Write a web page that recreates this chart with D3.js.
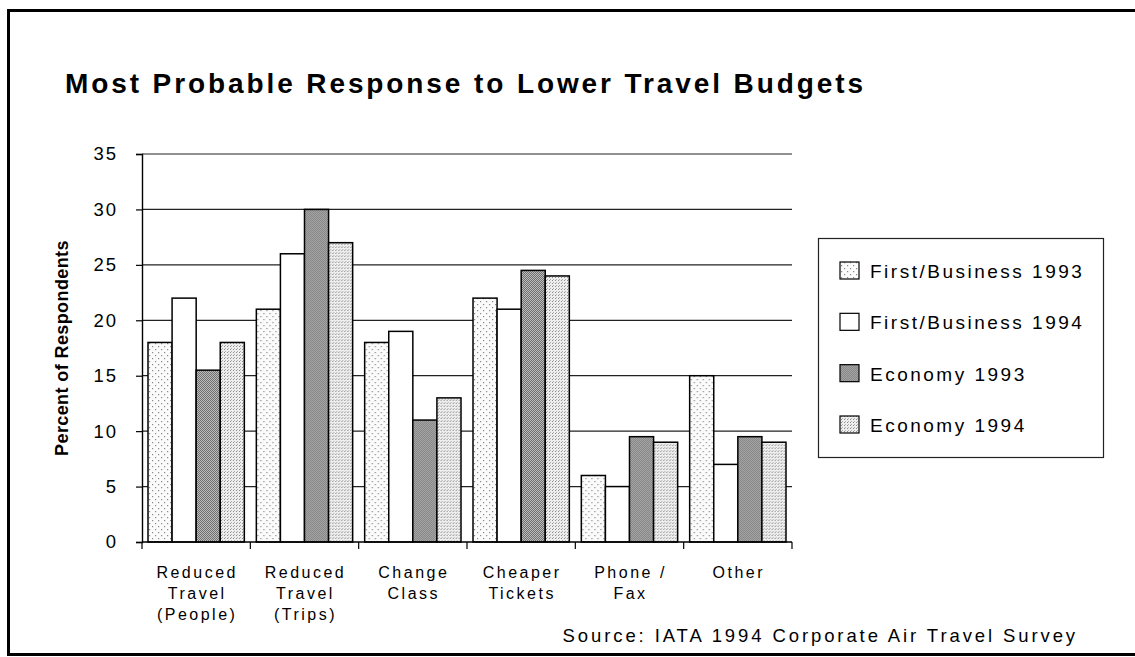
<!DOCTYPE html>
<html>
<head>
<meta charset="utf-8">
<script src="https://cdn.jsdelivr.net/npm/d3@7"></script>
<style>
  html, body { margin: 0; padding: 0; background: #fff; }
  svg { display: block; font-family: "Liberation Sans", Arial, Helvetica, sans-serif; }
</style>
</head>
<body>
<svg id="chart" width="1135" height="657"></svg>
<script>
// Survey responses: share of respondents choosing each action
const categories = [
  ["Reduced", "Travel", "(People)"],
  ["Reduced", "Travel", "(Trips)"],
  ["Change", "Class"],
  ["Cheaper", "Tickets"],
  ["Phone /", "Fax"],
  ["Other"]
];
const seriesNames = ["First/Business 1993", "First/Business 1994", "Economy 1993", "Economy 1994"];
const firstBusiness1993 = [18, 21, 18, 22, 6, 15];
const firstBusiness1994 = [22, 26, 19, 21, 5, 7];
const economy1993 = [15.5, 30, 11, 24.5, 9.5, 9.5];
const economy1994 = [18, 27, 13, 24, 9, 9];
const yTicks = [0, 5, 10, 15, 20, 25, 30, 35];

const seriesValues = [firstBusiness1993, firstBusiness1994, economy1993, economy1994];
const fills = ["url(#pLightDots)", "#ffffff", "url(#pDark)", "url(#pMedium)"];

const svg = d3.select("#chart");

// Fill textures
const defs = svg.append("defs");
const p1 = defs.append("pattern").attr("id", "pLightDots").attr("patternUnits", "userSpaceOnUse")
  .attr("width", 6).attr("height", 6);
p1.append("rect").attr("width", 6).attr("height", 6).attr("fill", "#fbfbfb");
p1.append("rect").attr("x", 1).attr("y", 1).attr("width", 1.2).attr("height", 1.2).attr("fill", "#8a8a8a");
p1.append("rect").attr("x", 4).attr("y", 4).attr("width", 1.2).attr("height", 1.2).attr("fill", "#8a8a8a");

const p3 = defs.append("pattern").attr("id", "pDark").attr("patternUnits", "userSpaceOnUse")
  .attr("width", 2).attr("height", 2);
p3.append("rect").attr("width", 2).attr("height", 2).attr("fill", "#bcbcbc");
p3.append("rect").attr("x", 0).attr("y", 0).attr("width", 1).attr("height", 1).attr("fill", "#707070");
p3.append("rect").attr("x", 1).attr("y", 1).attr("width", 1).attr("height", 1).attr("fill", "#707070");

const p4 = defs.append("pattern").attr("id", "pMedium").attr("patternUnits", "userSpaceOnUse")
  .attr("width", 3).attr("height", 3);
p4.append("rect").attr("width", 3).attr("height", 3).attr("fill", "#eeeeee");
p4.append("rect").attr("x", 1).attr("y", 1).attr("width", 1).attr("height", 1).attr("fill", "#8c8c8c");
p4.append("rect").attr("x", 2).attr("y", 0).attr("width", 1).attr("height", 1).attr("fill", "#b0b0b0");

// Outer frame
svg.append("rect").attr("x", 8.5).attr("y", 10.5).attr("width", 1140).attr("height", 644)
  .attr("fill", "none").attr("stroke", "#000").attr("stroke-width", 3);

// Title
svg.append("text").attr("x", 65).attr("y", 93)
  .attr("font-size", 28).attr("font-weight", "bold").attr("letter-spacing", 2.9)
  .text("Most Probable Response to Lower Travel Budgets");

const plot = { left: 142, right: 792, top: 154, bottom: 542 };

const x0 = d3.scaleBand().domain(d3.range(categories.length))
  .range([plot.left, plot.right]).paddingInner(0).paddingOuter(0);
const x1 = d3.scaleBand().domain(d3.range(seriesNames.length))
  .range([6, x0.bandwidth() - 6]).padding(0);
const y = d3.scaleLinear().domain([0, 35]).range([plot.bottom, plot.top]);

// Gridlines
svg.append("g").selectAll("line").data(yTicks.filter(t => t > 0)).join("line")
  .attr("x1", plot.left).attr("x2", plot.right)
  .attr("y1", d => y(d)).attr("y2", d => y(d))
  .attr("stroke", "#222").attr("stroke-width", 1.2);

// Y axis
const yAxis = svg.append("g").attr("transform", `translate(${plot.left},0)`)
  .call(d3.axisLeft(y).tickValues(yTicks).tickSize(6).tickPadding(18));
yAxis.select(".domain").attr("stroke", "#000").attr("stroke-width", 1.4);
yAxis.selectAll(".tick line").attr("stroke", "#000").attr("stroke-width", 1.2);
yAxis.selectAll(".tick text").attr("font-size", 18.5).attr("fill", "#000")
  .attr("letter-spacing", 2).attr("font-family", "Liberation Sans, Arial, sans-serif");

// Y axis title
svg.append("text").attr("transform", "translate(68,348) rotate(-90)")
  .attr("text-anchor", "middle").attr("font-size", 18).attr("font-weight", "bold")
  .attr("letter-spacing", 0.4)
  .text("Percent of Respondents");

// Bars
const groups = svg.append("g").selectAll("g").data(categories).join("g")
  .attr("transform", (d, i) => `translate(${x0(i)},0)`);
groups.selectAll("rect")
  .data((d, i) => seriesValues.map((vals, s) => ({ s, v: vals[i] })))
  .join("rect")
  .attr("x", d => x1(d.s)).attr("width", x1.bandwidth())
  .attr("y", d => y(d.v)).attr("height", d => y(0) - y(d.v))
  .attr("fill", d => fills[d.s]).attr("stroke", "#000").attr("stroke-width", 1.5);

// X axis with group separators
const xAxis = svg.append("g").attr("transform", `translate(0,${plot.bottom})`);
xAxis.append("line").attr("x1", plot.left).attr("x2", plot.right)
  .attr("stroke", "#000").attr("stroke-width", 1.5);
xAxis.selectAll("line.sep").data(d3.range(categories.length + 1)).join("line")
  .attr("class", "sep")
  .attr("x1", i => i < categories.length ? x0(i) : plot.right)
  .attr("x2", i => i < categories.length ? x0(i) : plot.right)
  .attr("y1", 0).attr("y2", 7).attr("stroke", "#000").attr("stroke-width", 1.2);

// Category labels
const labels = svg.append("g").selectAll("text").data(categories).join("text")
  .attr("text-anchor", "middle").attr("font-size", 16).attr("letter-spacing", 2.5)
  .attr("x", (d, i) => x0(i) + x0.bandwidth() / 2 + 1)
  .attr("y", 578);
labels.selectAll("tspan").data(d => d).join("tspan")
  .attr("x", function () { return d3.select(this.parentNode).attr("x"); })
  .attr("dy", (d, j) => j === 0 ? 0 : 21)
  .text(d => d);

// Legend
const legend = svg.append("g");
legend.append("rect").attr("x", 818.5).attr("y", 238.5).attr("width", 285).attr("height", 219)
  .attr("fill", "#fff").attr("stroke", "#222").attr("stroke-width", 1.2);
const rowY = d3.scalePoint().domain(d3.range(seriesNames.length)).range([270, 424]);
const items = legend.selectAll("g.item").data(seriesNames).join("g").attr("class", "item")
  .attr("transform", (d, i) => `translate(840,${rowY(i)})`);
items.append("rect").attr("x", 0).attr("y", -8).attr("width", 19).attr("height", 17)
  .attr("fill", (d, i) => fills[i]).attr("stroke", "#000").attr("stroke-width", 1.2);
items.append("text").attr("x", 30).attr("y", 8)
  .attr("font-size", 19).attr("letter-spacing", 2.5)
  .text(d => d);

// Source note
svg.append("text").attr("x", 1078).attr("y", 642).attr("text-anchor", "end")
  .attr("font-size", 18.5).attr("letter-spacing", 2.9)
  .text("Source: IATA 1994 Corporate Air Travel Survey");
</script>
</body>
</html>
